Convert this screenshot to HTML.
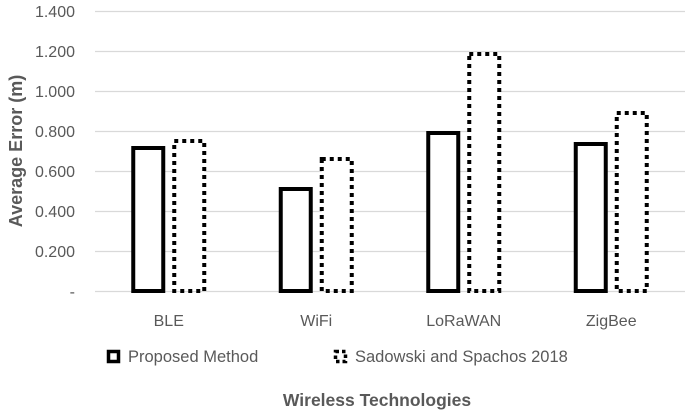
<!DOCTYPE html>
<html><head><meta charset="utf-8">
<style>
html,body{margin:0;padding:0;background:#fff;}
svg{display:block;font-family:"Liberation Sans",Calibri,sans-serif;}
</style></head>
<body>
<svg id="chart" width="685" height="413" viewBox="0 0 685 413">
<g id="grid"></g>
<g id="yticks"></g>
<g id="bars"></g>
<g id="xlabels"></g>
<text x="22" y="151" transform="rotate(-90 22 151)" text-anchor="middle" font-size="18" font-weight="bold" fill="#595959">Average Error (m)</text>
<text x="377" y="406" text-anchor="middle" font-size="17.5" font-weight="bold" fill="#595959">Wireless Technologies</text>
<g>
  <g>
    <rect x="108.5" y="351.5" width="10" height="10" fill="#fff" stroke="#000" stroke-width="3.5"/>
    <text x="128" y="362" font-size="16.5" fill="#595959">Proposed Method</text>
  </g>
  <g>
    <rect x="335.5" y="351.5" width="10" height="10" fill="#fff" stroke="#000" stroke-width="3.5" stroke-dasharray="3.5 3"/>
    <text x="355" y="362" font-size="16.5" fill="#595959">Sadowski and Spachos 2018</text>
  </g>
</g>
</svg>
<script>
const categories = ["BLE", "WiFi", "LoRaWAN", "ZigBee"];
const proposed = [0.725, 0.52, 0.80, 0.745];
const sadowski = [0.76, 0.67, 1.195, 0.90];
const yTicks = [0, 0.2, 0.4, 0.6, 0.8, 1.0, 1.2, 1.4];
const yTickLabels = ["-", "0.200", "0.400", "0.600", "0.800", "1.000", "1.200", "1.400"];

const NS = "http://www.w3.org/2000/svg";
const plotL = 95, plotR = 685, y0 = 291, yTop = 11, yMax = 1.4;
const yScale = v => y0 - (v / yMax) * (y0 - yTop);
const band = (plotR - plotL) / categories.length;
const xCenter = i => plotL + band * (i + 0.5);
const barW = 34, gap = 7;

function mk(tag, attrs, parent) {
  const el = document.createElementNS(NS, tag);
  for (const k in attrs) el.setAttribute(k, attrs[k]);
  parent.appendChild(el);
  return el;
}
const grid = document.getElementById('grid');
const yt = document.getElementById('yticks');
yTicks.forEach((v, i) => {
  const y = Math.round(yScale(v)) + 0.5;
  const l = mk('line', {x1: plotL, x2: plotR, y1: y, y2: y, stroke: '#d9d9d9', 'stroke-width': 1.2}, grid);
  
  
  const t = mk('text', {x: 75, y: y + 5.5, 'text-anchor': 'end', 'font-size': 16, fill: '#595959'}, yt);
  t.textContent = yTickLabels[i];
  
  
});
const bars = document.getElementById('bars');
const xl = document.getElementById('xlabels');
categories.forEach((c, i) => {
  const cx = xCenter(i);
  const x1 = cx - gap / 2 - barW, x2 = cx + gap / 2;
  const ya = yScale(proposed[i]), yb = yScale(sadowski[i]);
  const r1 = mk('rect', {x: x1 + 2, y: ya + 2, width: barW - 4, height: y0 - ya - 2, fill: '#fff', stroke: '#000', 'stroke-width': 4}, bars);
  
  
  const r2 = mk('rect', {x: x2 + 2, y: yb + 2, width: barW - 4, height: y0 - yb - 2, fill: '#fff', stroke: '#000', 'stroke-width': 4, 'stroke-dasharray': '4 4'}, bars);
  
  
  const t = mk('text', {x: cx, y: 326, 'text-anchor': 'middle', 'font-size': 16, fill: '#595959'}, xl);
  t.textContent = c;
  
  
});
</script>
</body></html>
